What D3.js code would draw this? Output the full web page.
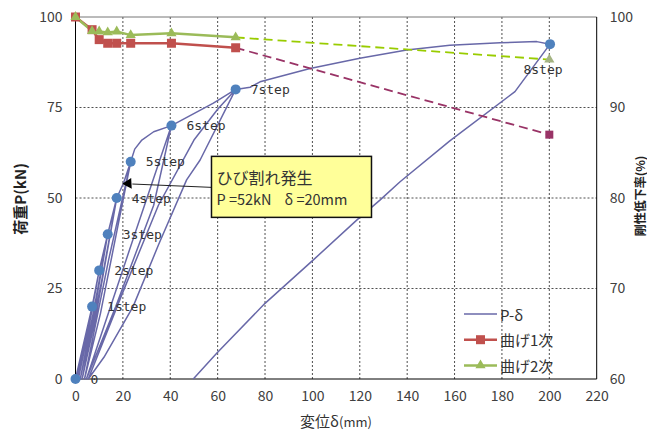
<!DOCTYPE html>
<html><head><meta charset="utf-8">
<script src="https://cdn.jsdelivr.net/npm/d3@7"></script>
<style>
html,body{margin:0;padding:0;background:#fff;}
svg{display:block;}
</style></head>
<body>
<svg id="chart" width="647" height="430"></svg>
<script>
// ---- data ----
const xTicks = [0,20,40,60,80,100,120,140,160,180,200,220];
const leftTicks = [0,25,50,75,100];
const rightTicks = [60,70,80,90,100];
const stepLabels = ["0","1step","2step","3step","4step","5step","6step","7step","8step"];
const stepDelta = [0,7,10,13.6,17.4,23.3,40.5,67.6,200.3];
const stepLoad  = [0,20,30,40,50,60,70,80,92.5];
// P-δ load path (δ mm, P kN)
const pdDelta = [0,7,3.5,0.6,4.2,7,10,5.5,1.2,5,10,13.6,8,2,7,13.6,17.4,11,2.8,8.5,17.4,20.2,23.3,
  14,3.8,10.5,23.3,25,28,33,40.5,25,4.6,17,33,40.5,46.2,58.2,67.6,
  52.6,46.9,35,24.3,12,5.4,20,35,50,60,67.6,
  73.7,77.9,99,120,139.8,158,179.2,194.7,200.3,
  185.5,158,137,128.5,118.7,100.4,80,59.6,49.7];
const pdLoad = [0,20,9,0,11,20,30,14,0,12,30,40,20,0,15,40,50,27,0,17,50,54,60,
  33,0,18,60,63.5,66,68.3,70,40,0,20,48,70,72,76.2,80,
  60.5,55,37,20,6,0,24,48,66,74.5,80,
  80.6,82.1,85.8,88.6,90.9,92.2,92.9,93.2,92.5,
  79.4,65.8,54.5,49.4,43.9,32.9,20.9,7.1,0];
const bendDelta  = [0,7,10,13.6,17.4,23.3,40.5,67.6];
const bend1Ratio = [100,98.6,97.5,97.1,97.1,97.1,97.1,96.6];
const bend2Ratio = [100,98.45,98.4,98.3,98.4,98.0,98.2,97.75];
const projDelta  = [67.6,200];
const proj1Ratio = [96.6,87.0];
const proj2Ratio = [97.75,95.3];
const crackDelta = 20.2, crackLoad = 54;
const seriesNames = ["P-δ","曲げ1次","曲げ2次"];

// ---- drawing ----
const svg = d3.select("#chart");
const W=647,H=430;
svg.append("rect").attr("width",W).attr("height",H).attr("fill","#fff");
const x = d3.scaleLinear().domain([0,220]).range([75.5,596.7]);
const yL = d3.scaleLinear().domain([0,100]).range([379,17]);
const yR = d3.scaleLinear().domain([60,100]).range([379,17]);
const font = "'Noto Sans CJK JP','Noto Sans',sans-serif";
const cPD="#6868A8", cB1="#C0504D", cB1d="#993366", cB2="#9BBB59", cB2d="#99CC00", cStep="#4F81BD";

// grid
const grid = svg.append("g");
xTicks.slice(1,-1).forEach(t=>grid.append("line").attr("x1",x(t)).attr("x2",x(t)).attr("y1",yL(0)).attr("y2",yL(100))
  .attr("stroke","#222").attr("stroke-width",0.8).attr("stroke-dasharray","2,2"));
leftTicks.slice(1,-1).forEach(t=>grid.append("line").attr("x1",x(0)).attr("x2",x(220)).attr("y1",yL(t)).attr("y2",yL(t))
  .attr("stroke","#222").attr("stroke-width",0.8).attr("stroke-dasharray","2,2"));
// border
svg.append("line").attr("x1",x(0)).attr("x2",x(220)).attr("y1",yL(100)).attr("y2",yL(100)).attr("stroke","#777").attr("stroke-width",1);
svg.append("line").attr("x1",x(0)).attr("x2",x(220)).attr("y1",yL(0)).attr("y2",yL(0)).attr("stroke","#000").attr("stroke-width",1);
svg.append("line").attr("x1",x(0)).attr("x2",x(0)).attr("y1",yL(0)).attr("y2",yL(100)).attr("stroke","#000").attr("stroke-width",1);
svg.append("line").attr("x1",x(220)).attr("x2",x(220)).attr("y1",yL(0)).attr("y2",yL(100)).attr("stroke","#000").attr("stroke-width",1);

// axes
function styleAxis(g){ g.select(".domain").remove(); g.selectAll("line").remove();
  g.selectAll("text").attr("font-family",font).attr("font-size",14).attr("fill","#404040"); }
svg.append("g").attr("transform",`translate(0,${yL(0)})`)
  .call(d3.axisBottom(x).tickValues(xTicks).tickSize(0).tickPadding(12)).call(styleAxis);
svg.append("g").attr("transform",`translate(${x(0)},0)`)
  .call(d3.axisLeft(yL).tickValues(leftTicks).tickSize(0).tickPadding(13)).call(styleAxis);
svg.append("g").attr("transform",`translate(${x(220)},0)`)
  .call(d3.axisRight(yR).tickValues(rightTicks).tickSize(0).tickPadding(13)).call(styleAxis);

// axis titles
const xt = svg.append("text").attr("x",336).attr("y",427).attr("text-anchor","middle")
  .attr("font-family",font).attr("font-size",15).attr("fill","#333");
xt.append("tspan").text("変位δ");
xt.append("tspan").attr("font-size",13).text("(mm)");
svg.append("text").attr("transform","translate(26,199) rotate(-90)").attr("text-anchor","middle")
  .attr("font-family",font).attr("font-size",15).attr("font-weight","bold").attr("fill","#222").text("荷重P(kN)");
svg.append("text").attr("transform","translate(639,196) rotate(-90)").attr("text-anchor","middle")
  .attr("dominant-baseline","central")
  .attr("font-family",font).attr("font-size",12).attr("font-weight","bold").attr("fill","#222").text("剛性低下率(%)");

// P-δ line
const pdPts = pdDelta.map((d,i)=>[d,pdLoad[i]]);
svg.append("path").datum(pdPts).attr("fill","none").attr("stroke",cPD).attr("stroke-width",1.5)
  .attr("stroke-linejoin","round")
  .attr("d",d3.line().x(d=>x(d[0])).y(d=>yL(d[1])));

// bending series
const b1 = bendDelta.map((d,i)=>[d,bend1Ratio[i]]);
const b2 = bendDelta.map((d,i)=>[d,bend2Ratio[i]]);
const lineR = d3.line().x(d=>x(d[0])).y(d=>yR(d[1]));
svg.append("path").datum(projDelta.map((d,i)=>[d,proj1Ratio[i]])).attr("fill","none").attr("stroke",cB1d)
  .attr("stroke-width",1.8).attr("stroke-dasharray","9,5").attr("d",lineR);
svg.append("path").datum(projDelta.map((d,i)=>[d,proj2Ratio[i]])).attr("fill","none").attr("stroke",cB2d)
  .attr("stroke-width",1.8).attr("stroke-dasharray","9,5").attr("d",lineR);
svg.append("path").datum(b1).attr("fill","none").attr("stroke",cB1).attr("stroke-width",2.5).attr("d",lineR);
svg.append("path").datum(b2).attr("fill","none").attr("stroke",cB2).attr("stroke-width",2.5).attr("d",lineR);
const sq=9;
svg.selectAll(".sq").data(b1).enter().append("rect").attr("x",d=>x(d[0])-sq/2).attr("y",d=>yR(d[1])-sq/2)
  .attr("width",sq).attr("height",sq).attr("fill",cB1);
svg.append("rect").attr("x",x(projDelta[1])-4).attr("y",yR(proj1Ratio[1])-4).attr("width",8).attr("height",8).attr("fill",cB1d);
const tri = d3.symbol().type(d3.symbolTriangle).size(45);
svg.selectAll(".tri").data(b2).enter().append("path").attr("d",tri)
  .attr("transform",d=>`translate(${x(d[0])},${yR(d[1])})`).attr("fill",cB2);
svg.append("path").attr("d",tri).attr("transform",`translate(${x(projDelta[1])},${yR(proj2Ratio[1])})`).attr("fill","#A4B382");

// step points & labels
svg.selectAll(".stp").data(stepDelta).enter().append("circle").attr("cx",d=>x(d)).attr("cy",(d,i)=>yL(stepLoad[i]))
  .attr("r",5).attr("fill",cStep);
stepLabels.forEach((t,i)=>{
  const last = i===stepLabels.length-1;
  svg.append("text").attr("x",x(stepDelta[i])+(last?-7:15)).attr("y",yL(stepLoad[i])+(last?25:0))
    .attr("text-anchor",last?"middle":"start").attr("dominant-baseline","central")
    .attr("font-family","'DejaVu Sans Mono',monospace").attr("font-size",13).attr("fill","#333").text(t);
});

// callout
const bx = x(57.4), by = yL(61.5), bw = 160, bh = 61;
svg.append("line").attr("x1",bx).attr("y1",by+31).attr("x2",x(crackDelta)+9).attr("y2",yL(crackLoad)+0.5)
  .attr("stroke","#222").attr("stroke-width",1);
svg.append("path").attr("d",d3.symbol().type(d3.symbolTriangle).size(50))
  .attr("transform",`translate(${x(crackDelta)+5},${yL(crackLoad)}) rotate(-93)`).attr("fill","#000");
svg.append("rect").attr("x",bx).attr("y",by).attr("width",bw).attr("height",bh)
  .attr("fill","#FFFF99").attr("stroke","#111").attr("stroke-width",1.5);
svg.append("text").attr("x",bx+5).attr("y",by+28).attr("font-family",font).attr("font-size",16).attr("fill","#333").text("ひび割れ発生");
svg.append("text").attr("x",bx+5).attr("y",by+49).attr("font-family",font).attr("font-size",14.5).attr("fill","#333")
  .attr("xml:space","preserve").style("white-space","pre").text("P =52kN    δ =20mm");

// legend
const lg = svg.append("g");
const lx1=464, lx2=497, ly0=314, ldy=25.7;
const legendColors=[cPD,cB1,cB2];
seriesNames.forEach((n,i)=>{
  const yy = ly0+i*ldy;
  lg.append("line").attr("x1",lx1).attr("x2",lx2).attr("y1",yy).attr("y2",yy).attr("stroke",legendColors[i]).attr("stroke-width",i===0?1.5:2.5);
  if(i===1) lg.append("rect").attr("x",(lx1+lx2)/2-4.5).attr("y",yy-4.5).attr("width",9).attr("height",9).attr("fill",cB1);
  if(i===2) lg.append("path").attr("d",tri).attr("transform",`translate(${(lx1+lx2)/2},${yy})`).attr("fill",cB2);
  lg.append("text").attr("x",lx2+3).attr("y",yy).attr("dominant-baseline","central")
    .attr("font-family",font).attr("font-size",15).attr("fill","#333").text(n);
});
</script>
</body></html>
